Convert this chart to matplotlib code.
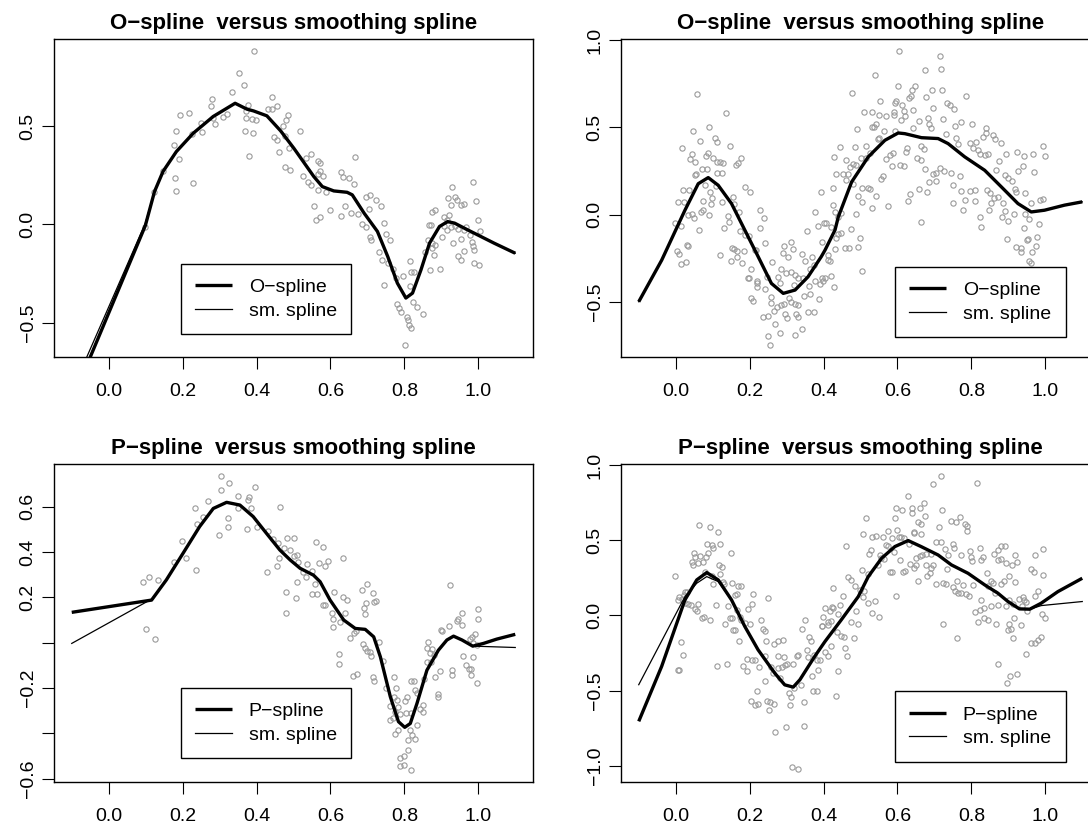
import matplotlib
matplotlib.use("Agg")
import matplotlib.pyplot as plt

plt.rcParams['font.family'] = ['Liberation Sans', 'DejaVu Sans']

# ---- panel 1: O-spline, first data set ----
tl_pts = [
    (0.392, 0.884), (0.352, 0.771), (0.367, 0.711), (0.334, 0.674), (0.280, 0.638),
    (0.278, 0.601), (0.193, 0.557), (0.217, 0.569), (0.181, 0.476), (0.176, 0.404),
    (0.191, 0.333), (0.147, 0.272), (0.179, 0.238), (0.229, 0.209), (0.183, 0.169),
    (0.123, 0.162), (0.099, -0.016), (0.226, 0.462), (0.253, 0.472), (0.251, 0.515),
    (0.287, 0.513), (0.282, 0.540), (0.310, 0.547), (0.320, 0.562), (0.376, 0.608),
    (0.371, 0.577), (0.371, 0.540), (0.389, 0.537), (0.399, 0.530), (0.369, 0.476),
    (0.390, 0.467), (0.380, 0.350), (0.442, 0.649), (0.431, 0.586), (0.441, 0.586),
    (0.455, 0.600), (0.446, 0.445), (0.455, 0.428), (0.462, 0.369),
    (0.485, 0.554), (0.481, 0.532), (0.472, 0.501), (0.476, 0.447), (0.487, 0.387),
    (0.478, 0.294), (0.490, 0.277), (0.517, 0.477), (0.533, 0.337), (0.548, 0.357),
    (0.566, 0.323), (0.573, 0.312), (0.565, 0.257), (0.580, 0.247), (0.571, 0.269),
    (0.527, 0.248), (0.539, 0.216), (0.548, 0.201), (0.567, 0.175), (0.587, 0.163),
    (0.555, 0.091), (0.562, 0.023), (0.573, 0.035), (0.600, 0.074), (0.628, 0.040),
    (0.638, 0.094), (0.628, 0.266), (0.634, 0.243), (0.650, 0.234), (0.664, 0.206),
    (0.666, 0.342), (0.655, 0.060), (0.674, 0.052), (0.695, 0.141), (0.707, 0.151),
    (0.723, 0.124), (0.736, 0.091), (0.704, 0.077), (0.686, 0.003), (0.695, -0.014),
    (0.709, -0.079), (0.706, -0.062), (0.744, 0.009), (0.750, -0.048), (0.761, -0.079),
    (0.732, -0.143), (0.740, -0.181), (0.755, -0.197), (0.746, -0.308), (0.768, -0.228),
    (0.777, -0.274), (0.796, -0.265), (0.815, -0.186), (0.819, -0.245), (0.825, -0.242),
    (0.814, -0.313), (0.823, -0.397), (0.834, -0.421), (0.851, -0.455), (0.780, -0.406),
    (0.786, -0.426), (0.791, -0.445), (0.807, -0.469), (0.810, -0.489), (0.813, -0.510),
    (0.818, -0.525), (0.802, -0.613), (0.856, -0.143), (0.863, -0.082), (0.869, -0.231),
    (0.876, -0.121), (0.880, -0.157), (0.874, -0.096), (0.882, -0.104), (0.866, -0.002),
    (0.872, -0.002), (0.876, 0.063), (0.883, 0.072), (0.896, -0.225), (0.901, -0.066),
    (0.907, 0.036), (0.914, -0.028), (0.915, 0.020), (0.922, 0.049), (0.928, 0.189),
    (0.917, 0.133), (0.926, 0.096), (0.936, 0.137), (0.942, 0.124), (0.952, 0.096),
    (0.962, 0.101), (0.985, 0.215), (0.994, 0.120), (0.936, -0.010), (0.945, -0.024),
    (0.931, -0.094), (0.953, -0.077), (0.960, -0.028), (0.968, -0.014), (0.978, -0.053),
    (0.982, -0.092), (0.986, -0.109), (0.989, -0.130), (1.000, 0.020), (1.005, -0.033),
    (0.945, -0.160), (0.952, -0.181), (0.962, -0.138), (0.989, -0.198), (1.001, -0.206),
    (0.907, -0.010), (0.926, -0.014),
]
tl_fit_x = [-0.1, 0.099, 0.124, 0.147, 0.183, 0.229, 0.283, 0.342, 0.374, 0.392, 0.428,
            0.465, 0.501, 0.555, 0.578, 0.609, 0.645, 0.659, 0.691, 0.727, 0.755, 0.781,
            0.804, 0.822, 0.845, 0.868, 0.895, 0.917, 0.936, 0.971, 1.007, 1.043, 1.1]
tl_fit_y = [-0.90, -0.007, 0.167, 0.269, 0.370, 0.464, 0.549, 0.616, 0.586, 0.577, 0.552,
            0.476, 0.387, 0.243, 0.192, 0.170, 0.163, 0.150, 0.057, -0.036, -0.164, -0.299,
            -0.375, -0.350, -0.231, -0.096, -0.011, 0.014, 0.006, -0.028, -0.062, -0.096, -0.147]
tl_sm_x = [-0.1, 0.099, 0.124]
tl_sm_y = [-0.85, 0.005, 0.167]

# ---- panel 2: O-spline, second data set ----
tr_pts = [
    (0.058, 0.693), (0.137, 0.584), (0.047, 0.479), (0.089, 0.505), (0.067, 0.421),
    (0.017, 0.380), (0.106, 0.439), (0.112, 0.414), (0.146, 0.391), (0.043, 0.349),
    (0.040, 0.320), (0.052, 0.300), (0.082, 0.334), (0.087, 0.351), (0.101, 0.325),
    (0.113, 0.300), (0.119, 0.300), (0.128, 0.298), (0.177, 0.323), (0.169, 0.297),
    (0.162, 0.282), (0.070, 0.263), (0.084, 0.263), (0.055, 0.235), (0.052, 0.229),
    (0.113, 0.241), (0.126, 0.241), (0.108, 0.165), (0.079, 0.169), (0.094, 0.129),
    (0.098, 0.093), (0.095, 0.063), (0.074, 0.080), (0.069, 0.017), (0.075, 0.025),
    (0.091, -0.005), (0.019, 0.143), (0.007, 0.072), (0.022, 0.072), (0.035, 0.139),
    (0.032, -0.005), (0.043, 0.006), (0.050, -0.021), (-0.001, -0.046), (0.014, -0.063),
    (0.062, -0.089), (0.030, -0.177), (0.034, -0.181), (0.004, -0.210), (0.008, -0.227),
    (0.013, -0.283), (0.027, -0.271), (0.119, -0.233), (0.149, -0.265), (0.152, -0.189),
    (0.158, -0.198), (0.166, -0.208), (0.167, -0.242), (0.179, -0.275), (0.187, 0.156),
    (0.202, 0.131), (0.155, 0.101), (0.158, 0.063), (0.124, 0.072), (0.141, -0.010),
    (0.143, -0.042), (0.132, -0.075), (0.171, 0.015), (0.173, -0.097), (0.187, -0.116),
    (0.197, -0.122), (0.185, -0.208), (0.214, -0.202), (0.217, -0.202), (0.195, -0.361),
    (0.197, -0.366), (0.204, -0.313), (0.229, 0.025), (0.240, -0.021), (0.227, -0.076),
    (0.241, -0.162), (0.220, -0.390), (0.221, -0.415), (0.219, -0.380), (0.208, -0.494),
    (0.205, -0.479), (0.246, -0.359), (0.242, -0.426), (0.261, -0.271), (0.257, -0.475),
    (0.259, -0.510), (0.266, -0.554), (0.250, -0.581), (0.237, -0.590), (0.270, -0.630),
    (0.249, -0.695), (0.255, -0.748), (0.282, -0.678), (0.284, -0.311), (0.277, -0.357),
    (0.281, -0.395), (0.293, -0.180), (0.311, -0.157), (0.317, -0.199), (0.291, -0.223),
    (0.305, -0.242), (0.298, -0.334), (0.313, -0.332), (0.324, -0.347), (0.331, -0.361),
    (0.345, -0.361), (0.321, -0.404), (0.307, -0.481), (0.312, -0.500), (0.322, -0.515),
    (0.330, -0.519), (0.286, -0.519), (0.292, -0.515), (0.275, -0.529), (0.297, -0.571),
    (0.331, -0.590), (0.301, -0.596), (0.325, -0.571), (0.343, -0.658), (0.324, -0.690),
    (0.359, -0.561), (0.373, -0.557), (0.346, -0.466), (0.364, -0.456), (0.388, -0.485),
    (0.341, -0.227), (0.351, -0.265), (0.368, -0.246), (0.373, -0.288), (0.364, -0.311),
    (0.361, -0.408), (0.378, -0.380), (0.396, -0.366), (0.398, -0.380), (0.390, -0.397),
    (0.355, -0.094), (0.378, 0.015), (0.394, 0.131), (0.385, -0.064), (0.402, -0.048),
    (0.395, -0.157), (0.413, -0.261), (0.429, 0.333), (0.426, 0.152), (0.429, -0.415),
    (0.604, 0.937), (0.716, 0.910), (0.719, 0.835), (0.674, 0.831), (0.539, 0.799),
    (0.476, 0.696), (0.602, 0.736), (0.647, 0.740), (0.640, 0.712), (0.636, 0.679),
    (0.678, 0.673), (0.693, 0.717), (0.721, 0.717), (0.786, 0.679), (0.552, 0.650),
    (0.593, 0.641), (0.597, 0.650), (0.611, 0.626), (0.617, 0.593), (0.591, 0.591),
    (0.631, 0.671), (0.641, 0.597), (0.695, 0.610), (0.734, 0.641), (0.743, 0.626),
    (0.752, 0.605), (0.510, 0.588), (0.532, 0.588), (0.549, 0.570), (0.568, 0.568),
    (0.591, 0.572), (0.620, 0.568), (0.609, 0.543), (0.543, 0.518), (0.530, 0.503),
    (0.491, 0.490), (0.564, 0.477), (0.594, 0.480), (0.641, 0.495), (0.657, 0.534),
    (0.683, 0.551), (0.685, 0.518), (0.690, 0.495), (0.722, 0.547), (0.755, 0.509),
    (0.771, 0.532), (0.801, 0.518), (0.839, 0.495), (0.839, 0.465), (0.858, 0.457),
    (0.831, 0.446), (0.865, 0.433), (0.881, 0.408), (0.732, 0.463), (0.759, 0.440),
    (0.764, 0.402), (0.795, 0.408), (0.813, 0.417), (0.804, 0.382), (0.818, 0.370),
    (0.824, 0.345), (0.836, 0.341), (0.845, 0.345), (0.444, 0.387), (0.485, 0.387),
    (0.516, 0.391), (0.546, 0.433), (0.549, 0.438), (0.537, 0.500), (0.525, 0.355),
    (0.514, 0.324), (0.501, 0.324), (0.489, 0.286), (0.480, 0.288), (0.462, 0.311),
    (0.471, 0.273), (0.453, 0.231), (0.433, 0.235), (0.466, 0.231), (0.462, 0.200),
    (0.480, 0.178), (0.493, 0.105), (0.505, 0.155), (0.521, 0.155), (0.525, 0.149),
    (0.503, 0.073), (0.530, 0.040), (0.541, 0.107), (0.489, 0.006), (0.426, 0.054),
    (0.431, 0.015), (0.448, 0.010), (0.440, -0.013), (0.408, -0.051), (0.421, -0.074),
    (0.473, -0.080), (0.440, -0.112), (0.435, -0.137), (0.448, -0.105), (0.498, -0.133),
    (0.493, -0.185), (0.457, -0.189), (0.468, -0.189), (0.431, -0.200), (0.413, -0.232),
    (0.417, -0.265), (0.421, -0.351), (0.404, -0.361), (0.503, -0.322), (0.561, 0.219),
    (0.556, 0.205), (0.570, 0.320), (0.579, 0.339), (0.588, 0.353), (0.584, 0.278),
    (0.607, 0.284), (0.617, 0.278), (0.624, 0.360), (0.627, 0.380), (0.575, 0.048),
    (0.629, 0.075), (0.633, 0.117), (0.658, 0.146), (0.665, -0.042), (0.681, 0.127),
    (0.685, 0.185), (0.703, 0.190), (0.696, 0.232), (0.705, 0.241), (0.714, 0.266),
    (0.726, 0.251), (0.654, 0.326), (0.665, 0.311), (0.674, 0.263), (0.663, 0.393),
    (0.672, 0.378), (0.744, 0.237), (0.749, 0.172), (0.768, 0.224), (0.773, 0.133),
    (0.751, 0.069), (0.777, 0.027), (0.782, 0.083), (0.797, 0.133), (0.809, 0.140),
    (0.809, 0.075), (0.822, -0.013), (0.827, -0.070), (0.842, 0.140), (0.851, 0.121),
    (0.854, 0.069), (0.861, 0.094), (0.872, 0.103), (0.848, 0.027), (0.867, 0.255),
    (0.876, 0.305), (0.890, 0.228), (0.899, 0.209), (0.910, 0.190), (0.917, 0.146),
    (0.921, 0.127), (0.924, 0.357), (0.942, 0.338), (0.966, 0.347), (0.993, 0.395),
    (0.998, 0.338), (0.939, 0.280), (0.927, 0.248), (0.969, 0.242), (0.893, 0.345),
    (0.886, 0.069), (0.890, 0.021), (0.883, -0.013), (0.899, -0.036), (0.915, 0.006),
    (0.944, 0.121), (0.946, 0.002), (0.962, 0.069), (0.957, -0.027), (0.985, 0.082),
    (0.993, 0.088), (0.983, -0.055), (0.978, -0.128), (0.975, -0.179), (0.963, -0.212),
    (0.953, -0.141), (0.951, -0.147), (0.942, -0.078), (0.933, -0.193), (0.921, -0.185),
    (0.935, -0.212), (0.897, -0.141), (0.955, -0.265), (0.960, -0.280), (0.989, -0.332),
]
tr_fit_x = [-0.1, -0.038, 0.025, 0.061, 0.088, 0.115, 0.151, 0.187, 0.223, 0.259, 0.291,
            0.323, 0.358, 0.394, 0.404, 0.431, 0.440, 0.476, 0.521, 0.566, 0.602, 0.620,
            0.665, 0.710, 0.737, 0.782, 0.836, 0.881, 0.926, 0.962, 0.998, 1.052, 1.1]
tr_fit_y = [-0.500, -0.262, 0.025, 0.177, 0.212, 0.168, 0.063, -0.089, -0.241, -0.395, -0.452,
            -0.433, -0.357, -0.241, -0.204, -0.089, -0.013, 0.187, 0.331, 0.426, 0.468, 0.464,
            0.441, 0.436, 0.407, 0.331, 0.254, 0.159, 0.063, 0.015, 0.025, 0.054, 0.073]

# ---- panel 3: P-spline, first data set ----
bl_pts = [
    (0.305, 0.737), (0.325, 0.705), (0.305, 0.673), (0.396, 0.688), (0.269, 0.626),
    (0.349, 0.647), (0.380, 0.644), (0.377, 0.629), (0.386, 0.593), (0.349, 0.596),
    (0.233, 0.596), (0.256, 0.556), (0.240, 0.522), (0.323, 0.551), (0.323, 0.512),
    (0.373, 0.500), (0.400, 0.512), (0.432, 0.494), (0.298, 0.475), (0.199, 0.449),
    (0.210, 0.375), (0.177, 0.357), (0.236, 0.319), (0.445, 0.456), (0.459, 0.441),
    (0.462, 0.372), (0.456, 0.338), (0.427, 0.313), (0.093, 0.269), (0.108, 0.291),
    (0.134, 0.277), (0.102, 0.059), (0.125, 0.015),
    (0.463, 0.600), (0.483, 0.460), (0.502, 0.460), (0.474, 0.416), (0.491, 0.409),
    (0.500, 0.382), (0.509, 0.387), (0.513, 0.357), (0.536, 0.347), (0.527, 0.313),
    (0.533, 0.288), (0.551, 0.316), (0.561, 0.446), (0.579, 0.421), (0.570, 0.350),
    (0.585, 0.338), (0.593, 0.362), (0.635, 0.372), (0.509, 0.269), (0.558, 0.259),
    (0.480, 0.225), (0.506, 0.196), (0.480, 0.130), (0.551, 0.215), (0.564, 0.215),
    (0.579, 0.166), (0.585, 0.166), (0.610, 0.222), (0.633, 0.203), (0.644, 0.188),
    (0.603, 0.130), (0.608, 0.105), (0.606, 0.069), (0.640, 0.133), (0.625, 0.093),
    (0.653, 0.019), (0.664, 0.044), (0.669, 0.053), (0.685, 0.234), (0.698, 0.260),
    (0.714, 0.219), (0.718, 0.179), (0.722, 0.184), (0.697, 0.176), (0.691, 0.154),
    (0.694, 0.125), (0.689, -0.006), (0.694, -0.025), (0.698, -0.035), (0.707, -0.040),
    (0.709, -0.059), (0.730, 0.003), (0.622, -0.050), (0.623, -0.094), (0.662, -0.147),
    (0.673, -0.140), (0.714, -0.150), (0.718, -0.168), (0.741, -0.079), (0.771, -0.153),
    (0.751, -0.201), (0.778, -0.201), (0.761, -0.279), (0.772, -0.238), (0.779, -0.253),
    (0.784, -0.282), (0.775, -0.304), (0.761, -0.341), (0.770, -0.334), (0.806, -0.238),
    (0.802, -0.256), (0.817, -0.168), (0.826, -0.168), (0.829, -0.209), (0.834, -0.221),
    (0.817, -0.309), (0.804, -0.309), (0.789, -0.315), (0.816, -0.385), (0.820, -0.407),
    (0.829, -0.426), (0.834, -0.363), (0.811, -0.429), (0.784, -0.385), (0.775, -0.403),
    (0.809, -0.473), (0.799, -0.500), (0.788, -0.510), (0.799, -0.539), (0.787, -0.544),
    (0.819, -0.562), (0.850, -0.275), (0.850, -0.304), (0.843, -0.290), (0.854, -0.162),
    (0.861, -0.084), (0.865, 0.003), (0.861, -0.022), (0.874, -0.027), (0.868, -0.047),
    (0.879, -0.054), (0.872, -0.084), (0.884, -0.150), (0.897, -0.123), (0.890, -0.226),
    (0.891, -0.238), (0.901, 0.050), (0.900, 0.054), (0.920, 0.073), (0.924, 0.254),
    (0.929, -0.120), (0.929, -0.141), (0.942, 0.094), (0.944, 0.106), (0.956, 0.131),
    (0.956, 0.078), (0.958, -0.059), (0.967, -0.098), (0.974, -0.118), (0.980, -0.141),
    (0.996, -0.176), (0.985, -0.062), (0.980, -0.118), (0.978, 0.015), (0.983, 0.025),
    (0.992, 0.040), (0.998, 0.106), (0.999, 0.150), (0.985, -0.003), (0.996, -0.010),
]
bl_fit_x = [-0.1, 0.116, 0.156, 0.201, 0.246, 0.283, 0.319, 0.355, 0.391, 0.427, 0.463,
            0.491, 0.518, 0.554, 0.572, 0.599, 0.636, 0.667, 0.694, 0.717, 0.735, 0.762,
            0.784, 0.801, 0.816, 0.834, 0.861, 0.892, 0.915, 0.933, 0.956, 0.985, 1.014,
            1.050, 1.1]
bl_fit_y = [0.134, 0.188, 0.277, 0.394, 0.512, 0.592, 0.619, 0.607, 0.556, 0.482, 0.409,
            0.365, 0.328, 0.298, 0.269, 0.188, 0.100, 0.063, 0.059, 0.026, -0.062, -0.238,
            -0.348, -0.373, -0.356, -0.268, -0.121, -0.033, 0.012, 0.029, 0.012, -0.015, -0.003,
            0.016, 0.037]
bl_sm_x = [-0.1, 0.120, 0.156]
bl_sm_y = [-0.003, 0.196, 0.277]
bl_sm_end_x = [0.985, 1.1]
bl_sm_end_y = [-0.015, -0.021]

# ---- panel 4: P-spline, second data set ----
br_pts = [
    (0.064, 0.601), (0.093, 0.590), (0.114, 0.553), (0.085, 0.474), (0.098, 0.472),
    (0.119, 0.479), (0.100, 0.448), (0.088, 0.414), (0.149, 0.417), (0.050, 0.417),
    (0.052, 0.388), (0.067, 0.394), (0.082, 0.388), (0.043, 0.355), (0.046, 0.337),
    (0.059, 0.348), (0.075, 0.353), (0.117, 0.337), (0.126, 0.324), (0.079, 0.293),
    (0.097, 0.264), (-0.001, 0.262), (0.121, 0.279), (0.101, 0.208), (0.129, 0.221),
    (0.131, 0.211), (0.153, 0.215), (0.169, 0.199), (0.177, 0.199), (0.025, 0.155),
    (0.031, 0.159), (0.022, 0.137), (0.009, 0.126), (0.016, 0.108), (0.005, 0.100),
    (0.025, 0.082), (0.032, 0.078), (0.041, 0.067), (0.061, 0.078), (0.052, 0.044),
    (0.057, 0.033), (0.070, -0.018), (0.077, -0.007), (0.092, -0.029), (0.109, 0.067),
    (0.160, 0.137), (0.166, 0.141), (0.141, 0.060), (0.134, -0.057), (0.148, -0.018),
    (0.151, -0.018), (0.156, -0.095), (0.160, -0.095), (0.165, 0.038), (0.174, -0.007),
    (0.178, -0.029), (0.187, -0.047), (0.202, -0.055), (0.210, 0.146), (0.207, 0.075),
    (0.196, 0.040), (0.171, -0.167), (0.232, -0.029), (0.235, -0.089), (0.241, -0.106),
    (0.250, 0.119), (0.244, -0.167), (0.266, -0.187), (0.277, -0.172), (0.291, -0.165),
    (0.013, -0.178), (0.021, -0.264), (0.005, -0.362), (0.010, -0.362), (0.112, -0.337),
    (0.139, -0.324), (0.183, -0.335), (0.194, -0.291), (0.192, -0.369), (0.207, -0.295),
    (0.214, -0.295), (0.226, -0.346), (0.241, -0.273), (0.241, -0.439), (0.219, -0.506),
    (0.204, -0.568), (0.214, -0.595), (0.223, -0.588), (0.246, -0.568), (0.255, -0.577),
    (0.266, -0.588), (0.253, -0.628), (0.258, -0.342), (0.264, -0.386), (0.276, -0.273),
    (0.277, -0.349), (0.282, -0.415), (0.293, -0.279), (0.287, -0.340), (0.295, -0.329),
    (0.301, -0.322), (0.306, -0.517), (0.309, -0.595), (0.313, -0.546), (0.320, -0.484),
    (0.327, -0.273), (0.331, -0.262), (0.318, -0.320), (0.340, -0.462), (0.348, -0.577),
    (0.268, -0.779), (0.298, -0.746), (0.346, -0.735), (0.316, -1.012), (0.330, -1.023),
    (0.343, -0.091), (0.350, -0.029), (0.361, -0.140), (0.354, -0.233), (0.359, -0.278),
    (0.365, -0.171), (0.375, -0.262), (0.381, -0.295), (0.384, -0.362), (0.369, -0.406),
    (0.372, -0.506), (0.381, -0.506), (0.390, -0.295), (0.395, -0.073), (0.396, -0.069),
    (0.399, -0.007), (0.405, 0.049), (0.411, -0.062), (0.417, 0.027), (0.421, -0.040),
    (0.426, 0.049), (0.426, 0.182), (0.405, -0.240), (0.411, -0.273), (0.420, -0.204),
    (0.719, 0.931), (0.814, 0.880), (0.696, 0.873), (0.629, 0.798), (0.597, 0.718),
    (0.611, 0.703), (0.638, 0.714), (0.640, 0.685), (0.662, 0.718), (0.671, 0.747),
    (0.674, 0.663), (0.721, 0.705), (0.516, 0.647), (0.593, 0.647), (0.656, 0.625),
    (0.665, 0.608), (0.713, 0.588), (0.746, 0.630), (0.758, 0.625), (0.768, 0.654),
    (0.782, 0.608), (0.789, 0.596), (0.789, 0.563), (0.507, 0.543), (0.460, 0.463),
    (0.532, 0.525), (0.543, 0.532), (0.561, 0.525), (0.575, 0.565), (0.600, 0.570),
    (0.644, 0.548), (0.646, 0.559), (0.665, 0.543), (0.584, 0.514), (0.604, 0.521),
    (0.609, 0.525), (0.618, 0.519), (0.570, 0.470), (0.575, 0.463), (0.631, 0.477),
    (0.528, 0.439), (0.522, 0.412), (0.552, 0.406), (0.555, 0.384), (0.564, 0.373),
    (0.591, 0.423), (0.705, 0.492), (0.717, 0.488), (0.728, 0.443), (0.750, 0.477),
    (0.752, 0.452), (0.773, 0.406), (0.738, 0.406), (0.667, 0.406), (0.678, 0.412),
    (0.651, 0.384), (0.660, 0.399), (0.692, 0.412), (0.797, 0.428), (0.800, 0.390),
    (0.822, 0.450), (0.827, 0.368), (0.832, 0.390), (0.803, 0.362), (0.861, 0.412),
    (0.872, 0.439), (0.880, 0.463), (0.890, 0.463), (0.872, 0.368), (0.880, 0.377),
    (0.895, 0.350), (0.919, 0.406), (0.924, 0.357), (0.910, 0.333), (0.973, 0.401),
    (0.995, 0.446), (0.962, 0.311), (0.969, 0.291), (0.994, 0.273), (0.503, 0.304),
    (0.519, 0.275), (0.548, 0.333), (0.579, 0.291), (0.584, 0.291), (0.615, 0.291),
    (0.620, 0.299), (0.607, 0.368), (0.633, 0.346), (0.646, 0.317), (0.651, 0.333),
    (0.676, 0.333), (0.690, 0.317), (0.696, 0.339), (0.681, 0.262), (0.687, 0.284),
    (0.656, 0.228), (0.703, 0.213), (0.723, 0.217), (0.730, 0.213), (0.734, 0.308),
    (0.757, 0.162), (0.764, 0.151), (0.773, 0.151), (0.751, 0.191), (0.762, 0.228),
    (0.777, 0.206), (0.786, 0.140), (0.793, 0.129), (0.804, 0.200), (0.843, 0.284),
    (0.854, 0.228), (0.858, 0.217), (0.881, 0.213), (0.888, 0.228), (0.917, 0.222),
    (0.903, 0.262), (0.845, 0.195), (0.863, 0.151), (0.827, 0.106), (0.834, 0.051),
    (0.822, 0.035), (0.809, 0.022), (0.818, -0.044), (0.845, -0.033), (0.834, -0.015),
    (0.854, 0.062), (0.872, 0.073), (0.866, -0.055), (0.895, 0.062), (0.903, 0.100),
    (0.912, 0.078), (0.930, 0.111), (0.939, 0.124), (0.942, 0.106), (0.948, 0.089),
    (0.937, 0.062), (0.951, 0.029), (0.973, 0.129), (0.980, 0.162), (0.991, 0.013),
    (0.998, -0.015), (0.916, -0.015), (0.903, -0.059), (0.908, -0.087), (0.935, -0.064),
    (0.899, -0.095), (0.912, -0.153), (0.871, -0.322), (0.904, -0.404), (0.897, -0.451),
    (0.924, -0.393), (0.948, -0.255), (0.960, -0.180), (0.971, -0.184), (0.980, -0.162),
    (0.989, -0.140), (0.760, -0.153), (0.723, -0.055), (0.595, 0.129), (0.550, -0.013),
    (0.530, 0.015), (0.538, 0.098), (0.519, 0.082), (0.489, 0.029), (0.482, -0.149),
    (0.475, -0.044), (0.494, -0.059), (0.507, 0.126), (0.510, 0.162), (0.498, 0.173),
    (0.485, 0.195), (0.475, 0.235), (0.466, 0.257), (0.453, 0.133), (0.444, 0.067),
    (0.423, 0.058), (0.439, 0.013), (0.413, -0.046), (0.437, -0.113), (0.448, -0.135),
    (0.455, -0.146), (0.457, -0.219), (0.464, -0.268), (0.438, -0.368), (0.433, -0.534),
]
br_fit_x = [-0.1, -0.038, 0.025, 0.057, 0.084, 0.115, 0.151, 0.187, 0.223, 0.268, 0.295,
            0.318, 0.336, 0.376, 0.404, 0.448, 0.494, 0.521, 0.557, 0.593, 0.629, 0.664,
            0.710, 0.746, 0.791, 0.836, 0.872, 0.899, 0.930, 0.958, 0.989, 1.034, 1.1]
br_fit_y = [-0.705, -0.339, 0.104, 0.237, 0.286, 0.237, 0.104, -0.073, -0.229, -0.384, -0.462,
            -0.477, -0.428, -0.273, -0.173, -0.029, 0.126, 0.259, 0.381, 0.459, 0.499, 0.459,
            0.403, 0.337, 0.281, 0.204, 0.148, 0.093, 0.044, 0.042, 0.082, 0.159, 0.248]
br_sm_x = [-0.1, 0.025, 0.057, 0.084, 0.115, 0.151]
br_sm_y = [-0.461, 0.126, 0.215, 0.259, 0.226, 0.104]
br_sm_end_x = [0.958, 0.989, 1.1]
br_sm_end_y = [0.042, 0.066, 0.093]

titles = ["O\u2212spline  versus smoothing spline", "P\u2212spline  versus smoothing spline"]
x_ticks = [0.0, 0.2, 0.4, 0.6, 0.8, 1.0]
x_labels = ["0.0", "0.2", "0.4", "0.6", "0.8", "1.0"]

W, H = 1088, 827
fig = plt.figure(figsize=(W / 100, H / 100), dpi=100)


def make_ax(left, top):
    return fig.add_axes([left / W, 1 - (top + 318) / H, 479 / W, 318 / H])


def draw(ax, pts, fit_x, fit_y, sm_parts, ylim, yticks, ylabels, title, name, leg_anchor):
    px = [p[0] for p in pts]
    py = [p[1] for p in pts]
    ax.plot(px, py, linestyle='none', marker='o', ms=3.8, mfc='none',
            mec='#9a9a9a', mew=0.8, zorder=1)
    ax.plot(fit_x, fit_y, color='black', lw=2.4, solid_capstyle='butt',
            solid_joinstyle='round', label=name, zorder=3)
    first = True
    for sx, sy in sm_parts:
        ax.plot(sx, sy, color='black', lw=0.9, zorder=2, solid_joinstyle='round',
                label='sm. spline' if first else None)
        first = False
    ax.set_xlim(-0.148, 1.148)
    ax.set_ylim(*ylim)
    ax.set_xticks(x_ticks)
    ax.set_xticklabels(x_labels)
    ax.set_yticks(yticks)
    ax.set_yticklabels(ylabels, rotation=90, va='center')
    ax.tick_params(direction='out', length=8.5, width=0.8, labelsize=14, colors='black')
    ax.tick_params(axis='x', pad=10)
    ax.tick_params(axis='y', pad=4)
    for s in ax.spines.values():
        s.set_linewidth(1.0)
    ax.set_title(title, fontsize=16, fontweight='bold', pad=7)
    leg = ax.legend(loc='lower right', bbox_to_anchor=leg_anchor, borderaxespad=0,
                    fontsize=14, frameon=True, fancybox=False, edgecolor='black',
                    framealpha=1, handlelength=1.9, handletextpad=0.85,
                    borderpad=0.75, labelspacing=0.3)
    leg.get_frame().set_linewidth(1.0)


ax1 = make_ax(54, 39)
draw(ax1, tl_pts, tl_fit_x, tl_fit_y,
     [(tl_sm_x + tl_fit_x[3:], tl_sm_y + tl_fit_y[3:])],
     (-0.675, 0.943), [-0.5, 0.0, 0.5], ["\u22120.5", "0.0", "0.5"],
     titles[0], "O\u2212spline", (0.621, 0.072))

ax2 = make_ax(621, 39)
draw(ax2, tr_pts, tr_fit_x, tr_fit_y, [(tr_fit_x, tr_fit_y)],
     (-0.817, 1.007), [-0.5, 0.0, 0.5, 1.0], ["\u22120.5", "0.0", "0.5", "1.0"],
     titles[0], "O\u2212spline", (0.928, 0.062))

ax3 = make_ax(54, 464)
draw(ax3, bl_pts, bl_fit_x, bl_fit_y,
     [(bl_sm_x + bl_fit_x[3:31], bl_sm_y + bl_fit_y[3:31]), (bl_sm_end_x, bl_sm_end_y)],
     (-0.614, 0.788), [-0.6, -0.4, -0.2, 0.0, 0.2, 0.4, 0.6],
     ["\u22120.6", "", "\u22120.2", "", "0.2", "0.4", "0.6"],
     titles[1], "P\u2212spline", (0.621, 0.0745))

ax4 = make_ax(621, 464)
draw(ax4, br_pts, br_fit_x, br_fit_y,
     [(br_sm_x + br_fit_x[7:29], br_sm_y + br_fit_y[7:29]), (br_sm_end_x, br_sm_end_y)],
     (-1.109, 1.009), [-1.0, -0.5, 0.0, 0.5, 1.0],
     ["\u22121.0", "\u22120.5", "0.0", "0.5", "1.0"],
     titles[1], "P\u2212spline", (0.928, 0.064))

fig.savefig("out.png", dpi=100)
